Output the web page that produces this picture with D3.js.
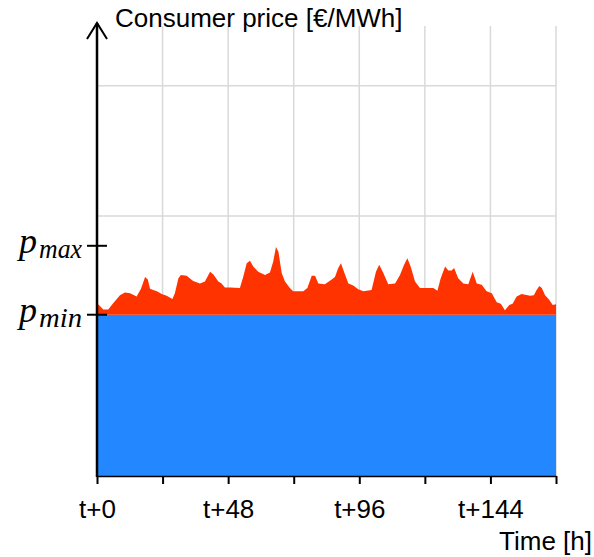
<!DOCTYPE html>
<html lang="en">
<head>
<meta charset="utf-8">
<title>Consumer price</title>
<script src="https://d3js.org/d3.v7.min.js"></script>
<style>
  body { margin: 0; background: #fff; }
  .lbl { font-family: "Liberation Sans", Arial, sans-serif; font-size: 26px; fill: #000; }
  .math { font-family: "Liberation Serif", serif; font-style: italic; fill: #000; }
</style>
</head>
<body>
<svg width="594" height="557"></svg>
<script>
// hours after t, and the price (same length)
const hours = [0, 2.3, 4.1, 6, 8.4, 10.2, 12.1, 14.5, 16.1, 17.6, 18.6, 19.4, 20.6, 21.9, 23.7,
  25.5, 27.6, 28.5, 29.8, 30.7, 32.8, 35.2, 37.7, 39.5, 41.4, 42.6, 44.4, 45.6, 46.8, 48.7,
  52.3, 53.5, 54.8, 56, 57.2, 59, 61.5, 63.3, 64.5, 65.5, 66.4, 67.6, 68.8, 70.6, 71.8,
  75.5, 77, 78.6, 79.8, 81, 83.4, 85.9, 87.1, 88.3, 89.3, 90.4, 92, 93.8, 95.6, 97.5,
  100.5, 102.1, 103.3, 104.8, 106.6, 109.1, 110.9, 112.4, 113.6, 114.8, 116.4, 118.2, 123.1, 124.6,
  125.8, 127.4, 128.6, 129.8, 130.7, 132.2, 134.1, 135.9, 137.5, 139, 140.8, 142.6, 144.5,
  146.3, 147.8, 149.3, 150.9, 152.1, 153.6, 155.4, 158.5, 159.9, 160.9, 161.9, 162.8, 164,
  165.5, 166.8, 168];
const price = [133, 128, 128, 133, 139, 141, 140.5, 138, 144, 153, 151, 144, 143, 142, 140,
  138.5, 136, 140.5, 152, 154.5, 154, 150, 148, 149.5, 157, 155, 149.5, 148, 145, 145,
  144.5, 153, 163.5, 165.5, 161, 157, 154.5, 156.5, 165, 176, 172.5, 156, 149.5, 144.5, 142,
  142, 144.5, 154, 154, 148, 147.5, 151, 153, 160, 163.5, 157, 148, 146.5, 143.5, 142,
  143, 157, 162.5, 156, 147.5, 148, 154.5, 162.5, 167.5, 161, 149.5, 144.5, 144.5, 142.5,
  152, 161, 158, 158, 160, 152, 148, 147.5, 157, 148, 147, 142, 140.5,
  133.5, 132.5, 127.5, 131.5, 132.5, 138, 140, 138.5, 139, 143, 146, 144.5, 139,
  135.5, 131.5, 132];

const pMin = 124;
const pMax = 177;
const gridPrices = [100, 200, 300];
const tickHours = [0, 24, 48, 72, 96, 120, 144, 168];
const labelHours = [0, 48, 96, 144];

const svg = d3.select("svg");
const mLeft = 97, mRight = 556, mBottom = 476, mTop = 26;

const x = d3.scaleLinear().domain([0, 168]).range([mLeft, mRight]);
const y = d3.scaleLinear().domain([0, 346]).range([mBottom, mTop]);

const data = hours.map((h, i) => ({h: h, p: price[i]}));

// grid
svg.append("g").selectAll("line")
  .data(tickHours.slice(1))
  .join("line")
  .attr("x1", d => x(d)).attr("x2", d => x(d))
  .attr("y1", y(0)).attr("y2", mTop)
  .attr("stroke", "#d9d9d9").attr("stroke-width", 1.5);

svg.append("g").selectAll("line")
  .data(gridPrices)
  .join("line")
  .attr("x1", mLeft).attr("x2", mRight)
  .attr("y1", d => y(d)).attr("y2", d => y(d))
  .attr("stroke", "#d9d9d9").attr("stroke-width", 1.5);

// blue base up to p_min
const base = d3.area()
  .x(d => x(d.h))
  .y0(y(0))
  .y1(y(pMin));
svg.append("path")
  .datum(data)
  .attr("fill", "#2388ff")
  .attr("d", base);

// red part above p_min
const over = d3.area()
  .x(d => x(d.h))
  .y0(y(pMin))
  .y1(d => y(d.p));
svg.append("path")
  .datum(data)
  .attr("fill", "#ff3300")
  .attr("d", over);

// x axis
const xAxis = d3.axisBottom(x)
  .tickValues(tickHours)
  .tickSize(8)
  .tickSizeOuter(0)
  .tickFormat(d => labelHours.includes(d) ? "t+" + d : "");

const gx = svg.append("g")
  .attr("transform", `translate(0,${mBottom})`)
  .call(xAxis);
gx.select(".domain").attr("stroke", "#000").attr("stroke-width", 1.5);
gx.selectAll(".tick line").attr("stroke", "#000").attr("stroke-width", 2);
gx.attr("font-size", null).attr("font-family", null);
gx.selectAll(".tick text")
  .attr("class", "lbl")
  .attr("y", 42).attr("dy", null);

// y axis with arrow
svg.append("line")
  .attr("x1", mLeft).attr("x2", mLeft)
  .attr("y1", mBottom + 1).attr("y2", 23)
  .attr("stroke", "#000").attr("stroke-width", 2.5);
svg.append("path")
  .attr("d", `M${mLeft - 10},39 L${mLeft},23 L${mLeft + 10},39`)
  .attr("fill", "none").attr("stroke", "#000").attr("stroke-width", 2);

svg.append("g").selectAll("line")
  .data([pMin, pMax])
  .join("line")
  .attr("x1", mLeft - 10).attr("x2", mLeft + 10)
  .attr("y1", d => y(d)).attr("y2", d => y(d))
  .attr("stroke", "#000").attr("stroke-width", 2);

// p labels: italic p plus a subscript
const pLabels = [{v: pMax, sub: "max"}, {v: pMin, sub: "min"}];
const pl = svg.append("g").selectAll("g")
  .data(pLabels)
  .join("g");
pl.append("text")
  .attr("class", "math")
  .attr("x", 19).attr("y", d => y(d.v) + 7)
  .attr("font-size", 36)
  .text("p");
pl.append("text")
  .attr("class", "math")
  .attr("x", 39).attr("y", d => y(d.v) + 12)
  .attr("font-size", 27)
  .attr("textLength", 43).attr("lengthAdjust", "spacingAndGlyphs")
  .text(d => d.sub);

// titles
svg.append("text")
  .attr("class", "lbl")
  .attr("font-size", 26.5)
  .attr("x", 115).attr("y", 27)
  .text("Consumer price [€/MWh]");
svg.append("text")
  .attr("class", "lbl")
  .attr("x", 592).attr("y", 550)
  .attr("text-anchor", "end")
  .text("Time [h]");
</script>
</body>
</html>
